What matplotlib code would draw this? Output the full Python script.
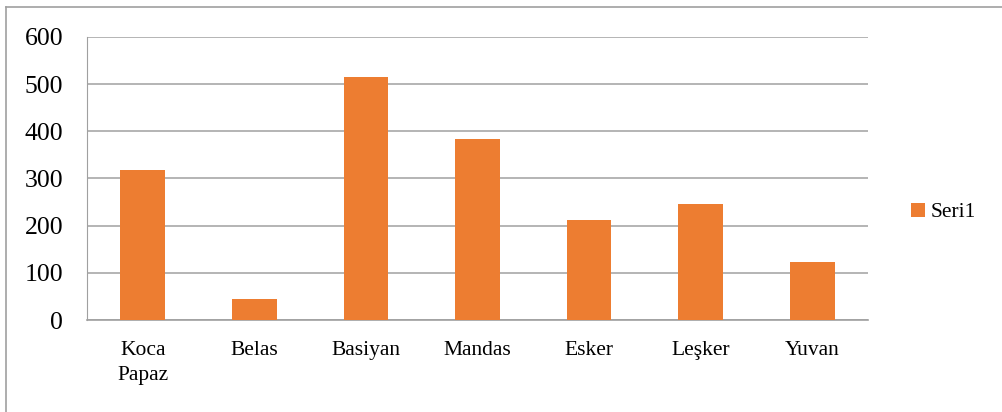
import matplotlib.pyplot as plt
from matplotlib.lines import Line2D

categories = ["Koca\nPapaz", "Belas", "Basiyan", "Mandas", "Esker", "Leşker", "Yuvan"]
values = [318, 44, 515, 383, 212, 246, 124]
yticks = [0, 100, 200, 300, 400, 500, 600]

plt.rcParams['font.family'] = ['Liberation Serif', 'DejaVu Serif']

fig = plt.figure(figsize=(10.02, 4.12), dpi=100)
ax = fig.add_axes([0.0868, 0.2233, 0.7795, 0.6869])

x = range(len(categories))
ax.bar(x, values, width=0.4, color='#ed7d31', label='Seri1', zorder=3)

ax.set_xlim(-0.5, len(categories) - 0.5)
ax.set_ylim(0, 600)
ax.set_yticks(yticks)
ax.set_xticks(list(x))
ax.set_xticklabels(categories, fontsize=15.5, va='top', linespacing=1.45)
ax.tick_params(axis='y', labelsize=18.5, length=0, pad=17)
ax.tick_params(axis='x', length=0, pad=15)
ax.grid(axis='y', color='#a0a0a0', linewidth=1.1, zorder=0)

for s in ['top', 'right']:
    ax.spines[s].set_visible(False)
ax.spines['left'].set_color('#a0a0a0')
ax.spines['bottom'].set_color('#a0a0a0')
ax.spines['bottom'].set_linewidth(1.2)

ax.legend(loc='center left', bbox_to_anchor=(1.03, 0.38), frameon=False,
          fontsize=15.5, handlelength=0.65, handleheight=0.65, handletextpad=0.25)

# outer chart border (top and left edges)
fig.add_artist(Line2D([6/1002, 1], [1 - 7/412, 1 - 7/412], color='#a0a0a0', lw=1.2))
fig.add_artist(Line2D([6/1002, 6/1002], [0, 1 - 7/412], color='#a0a0a0', lw=1.2))

plt.savefig("out.png", dpi=100)
